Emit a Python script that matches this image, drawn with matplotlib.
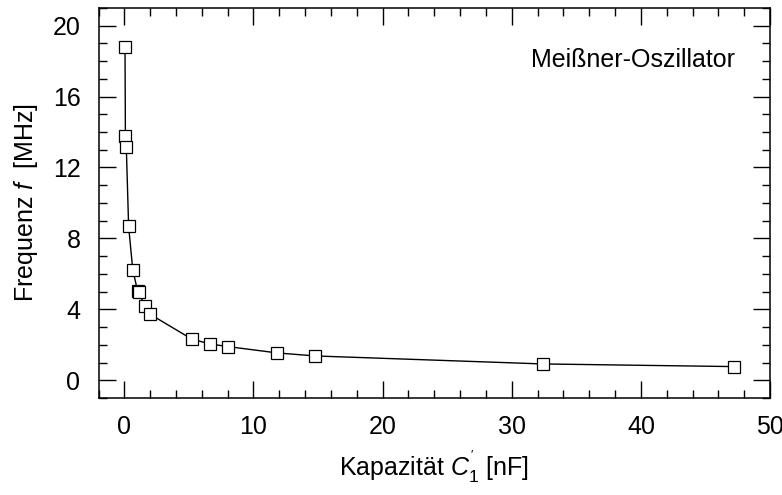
import matplotlib
matplotlib.use("Agg")
import matplotlib.pyplot as plt
from matplotlib.ticker import MultipleLocator

plt.rcParams['font.family'] = ['Liberation Sans', 'DejaVu Sans']
plt.rcParams['mathtext.fontset'] = 'custom'
plt.rcParams['mathtext.rm'] = 'Liberation Sans'
plt.rcParams['mathtext.it'] = 'Liberation Sans:italic'

# Kapazitaet C1' [nF] und Frequenz f [MHz]
kapazitaet = [0.05, 0.08, 0.15, 0.33, 0.65, 1.02, 1.1, 1.6, 2.0,
              5.2, 6.6, 8.0, 11.85, 14.8, 32.4, 47.2]
frequenz = [18.82, 13.79, 13.18, 8.68, 6.24, 5.05, 4.97, 4.17, 3.72,
            2.33, 2.05, 1.9, 1.54, 1.37, 0.92, 0.77]

fig = plt.figure(figsize=(7.82, 4.95), dpi=100)
ax = fig.add_axes([0.126, 0.196, 0.8587, 0.788])

ax.plot(kapazitaet, frequenz, color='black', linewidth=1.0,
        marker='s', markersize=8, markerfacecolor='white',
        markeredgecolor='black', markeredgewidth=0.9)

ax.set_xlim(-2, 50)
ax.set_ylim(-1, 21)
ax.xaxis.set_major_locator(MultipleLocator(10))
ax.xaxis.set_minor_locator(MultipleLocator(2))
ax.yaxis.set_major_locator(MultipleLocator(4))
ax.yaxis.set_minor_locator(MultipleLocator(1))

ax.tick_params(which='both', direction='in', top=True, right=True,
               labelsize=18, width=1.0)
ax.tick_params(which='major', length=12)
ax.tick_params(which='minor', length=6)
ax.tick_params(axis='x', which='major', pad=12)
ax.tick_params(axis='y', which='major', pad=13)
for s in ax.spines.values():
    s.set_linewidth(1.1)

ax.set_xlabel("Kapazität $C_1^{'}$ [nF]", fontsize=18, labelpad=7)
ax.set_ylabel("Frequenz $f$  [MHz]", fontsize=18, labelpad=9)

ax.text(0.948, 0.867, "Meißner-Oszillator", transform=ax.transAxes,
        ha='right', va='center', fontsize=18)

fig.savefig("out.png", dpi=100)
